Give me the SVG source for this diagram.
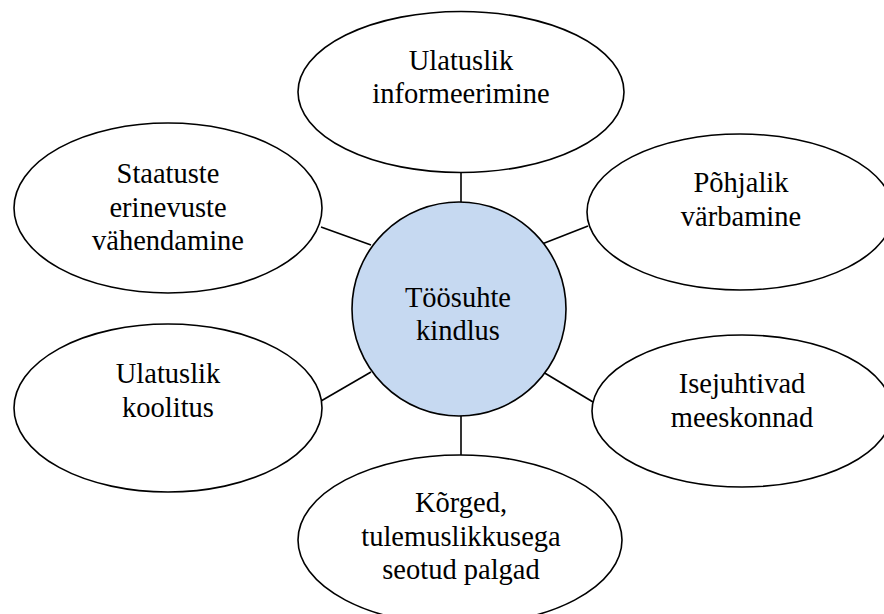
<svg xmlns="http://www.w3.org/2000/svg" width="884" height="614" viewBox="0 0 884 614">
  <style>
    .node { fill: #ffffff; stroke: #000000; stroke-width: 1.6; }
    .hub { fill: #C6D9F1; stroke: #000000; stroke-width: 1.6; }
    .link { stroke: #000000; stroke-width: 1.6; fill: none; }
    .lbl { font-family: "Times New Roman", Times, "Liberation Serif", Tinos, "Nimbus Roman", "Nimbus Roman No9 L", "TeX Gyre Termes", FreeSerif, "Noto Serif", "DejaVu Serif", serif; font-size: 28.5px; fill: #000000; text-anchor: middle; }
  </style>
  <rect width="884" height="614" fill="#ffffff"/>

  <!-- spokes between the hub and the surrounding ellipses -->
  <g id="connectors">
    <line class="link" x1="461" y1="173" x2="461" y2="202"/>
    <line class="link" x1="321" y1="227" x2="371" y2="245"/>
    <line class="link" x1="542" y1="244" x2="588" y2="226"/>
    <line class="link" x1="371" y1="372" x2="321" y2="401"/>
    <line class="link" x1="543" y1="372" x2="593" y2="402"/>
    <line class="link" x1="461" y1="416" x2="461" y2="455"/>
  </g>

  <g id="informeerimine">
    <ellipse class="node" cx="461" cy="92" rx="163" ry="80.5"/>
    <text class="lbl" x="461" y="69.5">Ulatuslik</text>
    <text class="lbl" x="461" y="102.5">informeerimine</text>
  </g>

  <g id="staatused">
    <ellipse class="node" cx="168" cy="208" rx="154" ry="85"/>
    <text class="lbl" x="168" y="183">Staatuste</text>
    <text class="lbl" x="168" y="216.5">erinevuste</text>
    <text class="lbl" x="168" y="250">vähendamine</text>
  </g>

  <g id="varbamine">
    <ellipse class="node" cx="740" cy="212" rx="153" ry="78"/>
    <text class="lbl" x="741" y="192">Põhjalik</text>
    <text class="lbl" x="741" y="225.5">värbamine</text>
  </g>

  <g id="koolitus">
    <ellipse class="node" cx="168" cy="408" rx="154" ry="84"/>
    <text class="lbl" x="168" y="383">Ulatuslik</text>
    <text class="lbl" x="168" y="416.5">koolitus</text>
  </g>

  <g id="meeskonnad">
    <ellipse class="node" cx="742" cy="411" rx="150" ry="76"/>
    <text class="lbl" x="742" y="393">Isejuhtivad</text>
    <text class="lbl" x="742" y="426.5">meeskonnad</text>
  </g>

  <g id="palgad">
    <ellipse class="node" cx="460" cy="540" rx="162" ry="85"/>
    <text class="lbl" x="461" y="512">Kõrged,</text>
    <text class="lbl" x="461" y="545.5">tulemuslikkusega</text>
    <text class="lbl" x="461" y="579">seotud palgad</text>
  </g>

  <g id="kindlus">
    <circle class="hub" cx="459" cy="309" r="107"/>
    <text class="lbl" x="458" y="307">Töösuhte</text>
    <text class="lbl" x="458" y="340">kindlus</text>
  </g>
</svg>
